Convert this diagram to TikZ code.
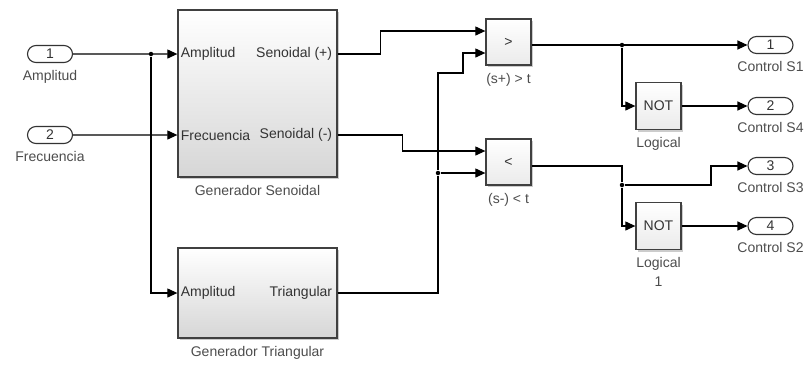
\documentclass[tikz,border=0pt]{standalone}
\usepackage{fontspec}
\setmainfont{Liberation Sans}
\usetikzlibrary{arrows.meta, positioning, shadows, shapes.misc}

\begin{document}
\begin{tikzpicture}[
        x = 1pt, y = -1pt,
        line width = 1.1pt,
        >= {Triangle[length = 10pt, width = 9pt]},
        font = \fontsize{14}{19}\selectfont,
        every node/.style = {text = black!80},
        label distance = 3.5pt,
        every label/.style = {text = black!70, align = center},
        port/.style = {rounded rectangle, draw = black!80, minimum width = 45pt, minimum height = 17pt, inner sep = 0pt},
        subsys/.style = {draw = black!75, line width = 1.3pt, top color = white, bottom color = black!16, minimum width = 159pt, inner sep = 0pt,
            drop shadow = {shadow xshift = 2pt, shadow yshift = -2pt, fill = black!40, opacity = .5}},
        block/.style = {draw = black!75, line width = 1.3pt, top color = white, bottom color = black!8, minimum width = 45pt, minimum height = 46pt, inner sep = 0pt,
            drop shadow = {shadow xshift = 2pt, shadow yshift = -2pt, fill = black!40, opacity = .5}},
        junction/.style = {circle, fill = black, inner sep = 0pt, minimum size = 4.5pt}
    ]

        \useasboundingbox (0,0) rectangle (809,365);

        % inputs
        \node[port, label = below:Amplitud] (in1) at (50,54) {1};
        \node[port, label = below:Frecuencia] (in2) at (50,135) {2};

        % subsystems
        \node[subsys, minimum height = 167pt, label = below:Generador Senoidal] (gsen) at (257.5,93.5) {};
        \node[subsys, minimum height = 90pt, label = below:Generador Triangular] (gtri) at (257.5,293) {};

        \node[anchor = west, inner xsep = 3pt] (gsen-amp) at (gsen.west |- in1) {Amplitud};
        \node[anchor = east, inner xsep = 5pt] (gsen-pos) at (gsen.east |- in1) {Senoidal (+)};
        \node[anchor = west, inner xsep = 3pt] (gsen-frq) at (gsen.west |- in2) {Frecuencia};
        \node[anchor = east, inner xsep = 5pt] (gsen-neg) at (gsen.east |- in2) {Senoidal (-)};
        \node[anchor = west, inner xsep = 3pt] (gtri-amp) at (gtri.west) {Amplitud};
        \node[anchor = east, inner xsep = 5pt] (gtri-out) at (gtri.east) {Triangular};

        % comparators
        \node[block, label = below:(s+) > t] (gt) at (508.5,42) {>};
        \node[block, label = below:(s-) < t] (lt) at (508.5,162) {<};
        \coordinate (gt-in1) at ([yshift = 11pt]gt.west);
        \coordinate (gt-in2) at ([yshift = -11pt]gt.west);
        \coordinate (lt-in1) at ([yshift = 11pt]lt.west);
        \coordinate (lt-in2) at ([yshift = -11pt]lt.west);

        % logic and outputs
        \node[block, minimum height = 47pt, label = below:Logical] (not1) at (658.5,106) {NOT};
        \node[block, minimum height = 47pt, label = {below:Logical\\1}] (not2) at (658.5,226) {NOT};

        \node[port, label = below:Control S1] (out1) at (770.5,45) {1};
        \node[port, label = below:Control S4] (out2) at (770.5,106) {2};
        \node[port, label = below:Control S3] (out3) at (770.5,166) {3};
        \node[port, label = below:Control S2] (out4) at (770.5,226) {4};

        % junctions
        \node[junction] (d0) at (151,54) {};
        \node[junction] (d1) at (438,173) {};
        \node[junction] (d2) at (622,45) {};
        \node[junction] (d3) at (622,185) {};

        \draw[->] (in1) -- (gsen.west |- in1);
        \draw[->] (in2) -- (gsen.west |- in2);
        \draw[->] (d0) |- (gtri.west);

        \draw[->] (gsen.east |- in1) -- ++(43,0) |- (gt-in1);
        \draw[->] (gsen.east |- in2) -- ++(65,0) |- (lt-in1);
        \draw (gtri.east) -| (d1);
        \draw[->] (d1) -- (lt-in2);
        \draw[->] (d1) -- ++(0,-100) -- ++(25,0) |- (gt-in2);

        \draw[->] (gt.east |- out1) -- (out1);
        \draw[->] (d2) |- (not1.west);
        \draw[->] (not1) -- (out2);
        \draw (lt.east |- out3) -| (d3);
        \draw[->] (d3) -- ++(89,0) |- (out3.west);
        \draw[->] (d3) |- (not2.west);
        \draw[->] (not2) -- (out4);

\end{tikzpicture}
\end{document}
